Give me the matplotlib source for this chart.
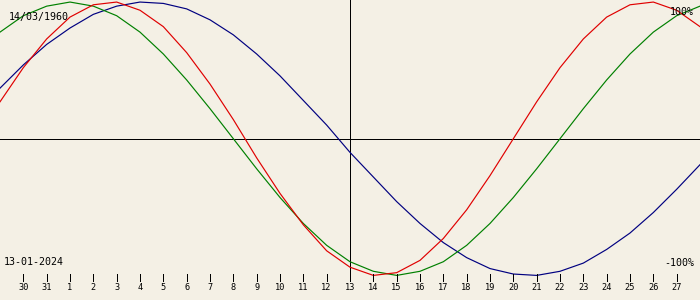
import matplotlib; matplotlib.use("Agg")
import matplotlib.pyplot as plt
import numpy as np

BG = "#f4f0e5"; RED = "#e00000"; GREEN = "#008000"; BLUE = "#000080"; DARK = "#000000"

# day offsets relative to 13-01-2024, -15 .. +15
offsets = list(range(-15, 16))
day_labels = [29, 30, 31] + list(range(1, 29))
# values in percent, one per day
physical = [27, 52, 73, 89, 98, 100, 94, 82, 63, 40, 14, -14, -40, -63, -82, -94,
            -100, -98, -89, -73, -52, -27, 0, 27, 52, 73, 89, 98, 100, 94, 82]
emotional = [78, 90, 97, 100, 97, 90, 78, 62, 43, 22, 0, -22, -43, -62, -78, -90,
             -97, -100, -97, -90, -78, -62, -43, -22, 0, 22, 43, 62, 78, 90, 97]
intellectual = [37, 54, 69, 81, 91, 97, 100, 99, 95, 87, 76, 62, 46, 28, 10, -10,
                -28, -46, -62, -76, -87, -95, -99, -100, -97, -91, -81, -69, -54, -37, -19]

fig = plt.figure(figsize=(7, 3), dpi=100, facecolor=BG)
ax = fig.add_axes([0, 0, 1, 1], facecolor=BG)
ax.set_xlim(-15, 15)
ax.set_ylim(-118, 101.5)
ax.axis("off")

# axes: zero line and today line
ax.axhline(0, color=DARK, lw=0.72, antialiased=False, zorder=1)
ax.axvline(0, ymin=0.063, ymax=1, color=DARK, lw=0.72, antialiased=False, zorder=1)

ax.plot(offsets, intellectual, color=BLUE, lw=0.85, zorder=2)
ax.plot(offsets, emotional, color=GREEN, lw=0.85, zorder=3)
ax.plot(offsets, physical, color=RED, lw=0.85, zorder=4)

# day ticks along the bottom
tr = ax.get_xaxis_transform()
for k, d in zip(offsets, day_labels):
    if k in (-15, 15):
        continue
    ax.plot([k, k], [0.063, 0.087], color=DARK, lw=0.72, antialiased=False,
            transform=tr, zorder=5)
    ax.text(k, 0.04, str(d), transform=tr, ha="center", va="center",
            fontsize=6.2, family="DejaVu Sans Mono", color=DARK)

mono = dict(family="DejaVu Sans Mono", fontsize=7.2, color=DARK)
fig.text(9/700, 1-17/300, "14/03/1960", ha="left", va="center", **mono)
fig.text(4/700, 1-262/300, "13-01-2024", ha="left", va="center", **mono)
fig.text(694/700, 1-12/300, "100%", ha="right", va="center", **mono)
fig.text(694/700, 1-263/300, "-100%", ha="right", va="center", **mono)

fig.savefig("out.png", dpi=100, facecolor=BG)
